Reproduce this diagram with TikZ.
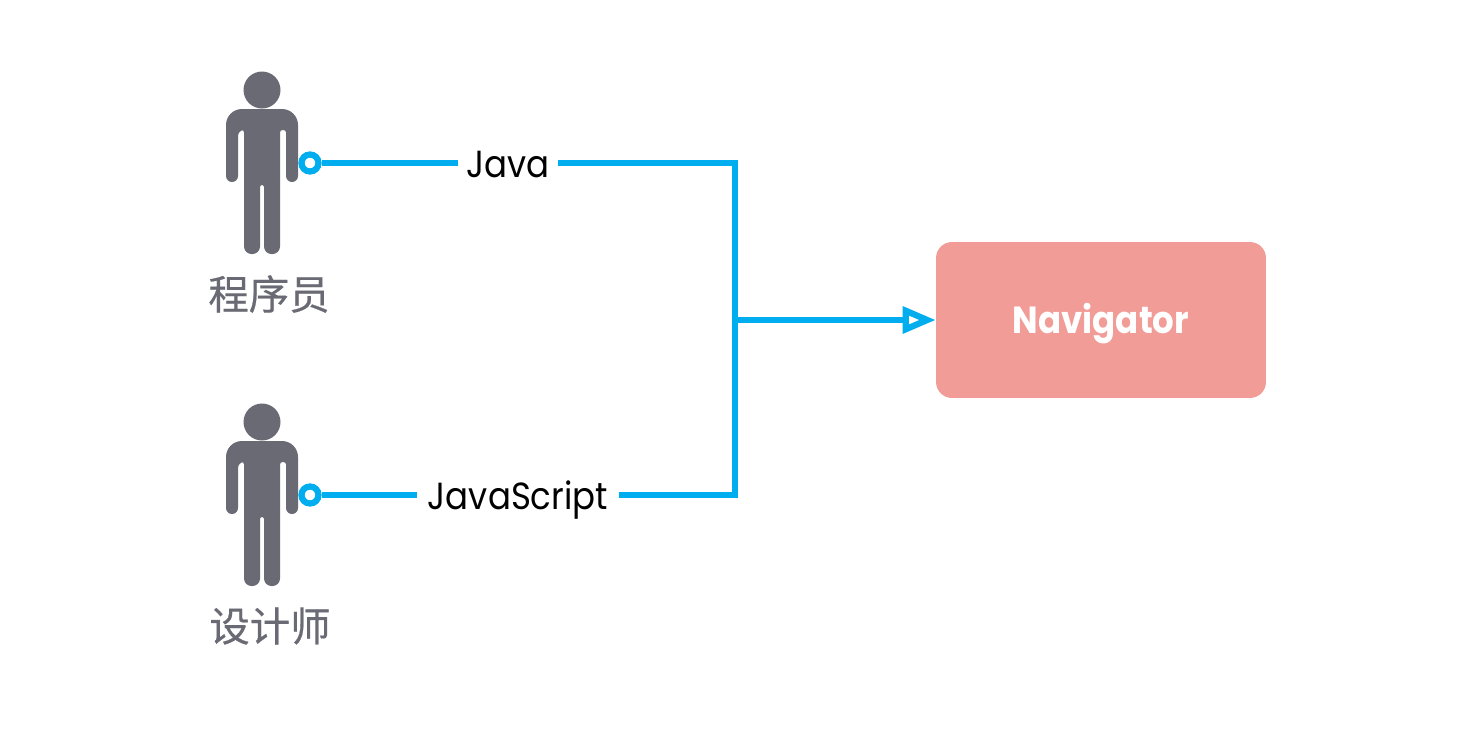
\documentclass[tikz,border=0pt]{standalone}
\usepackage{fontspec}
\setmainfont[FakeStretch=.9]{Poppins}
\newfontfamily\cjkfont[FakeBold=.5]{Noto Sans CJK SC}
\usetikzlibrary{arrows.meta}
\definecolor{wireblue}{HTML}{00AEEF}
\definecolor{persongrey}{HTML}{6A6A74}
\definecolor{navred}{HTML}{F19C97}
\tikzset{
  wire/.style={draw=wireblue,line width=.115cm},
  port/.style={circle,draw=wireblue,fill=white,line width=.125cm,minimum size=.34cm,inner sep=0pt},
  tag/.style={inner sep=0pt,text height=.56cm,text depth=0pt,font=\fontsize{21.5}{24}\selectfont},
  rolename/.style={text=persongrey,inner sep=0pt,font=\cjkfont\fontsize{23}{26}\selectfont},
  navbox/.style={fill=navred,rounded corners=.32cm,minimum width=6.6cm,minimum height=3.12cm,
    text height=.52cm,text depth=0pt,text=white,font=\fontsize{21.5}{24}\selectfont\bfseries},
  person/.pic={
    \fill[persongrey] (0,0) circle [radius=18.5];
    \fill[persongrey] (0,19) [rounded corners=.32cm] -- (-36,19) -- (-36,50)
      [rounded corners=.12cm] -- (-36,92) -- (-24,92) -- (-24,40) [rounded corners=.05cm] -- (-18,40)
      [rounded corners=.15cm] -- (-18,164) -- (-2,164) [rounded corners=.04cm] -- (-2,95) -- (2,95)
      [rounded corners=.15cm] -- (2,164) -- (18,164) [rounded corners=.05cm] -- (18,40) -- (24,40)
      [rounded corners=.12cm] -- (24,92) -- (36,92) -- (36,50)
      [rounded corners=.32cm] -- (36,19) -- cycle;
  }
}
\begin{document}
\begin{tikzpicture}[x=.02cm,y=-.02cm]
  \useasboundingbox (0,0) rectangle (1460,734);
  \pic at (262,90) {person};
  \pic at (262,422) {person};
  \node[rolename] (dev) at (269,294) {程序员};
  \node[rolename] (designer) at (270,626) {设计师};
  \node[port] (devport) at (310,163) {};
  \node[port] (designerport) at (310,495) {};
  \node[tag,minimum width=2cm] (java) at (508,163) {Java};
  \node[tag,minimum width=4.04cm] (script) at (518,495) {JavaScript};
  \node[navbox] (nav) at (1101,320) {Navigator};
  \coordinate (joint) at (735,320);
  \draw[wire] (devport) -- (java);
  \draw[wire] (designerport) -- (script);
  \draw[wire] (java.east) -| (joint);
  \draw[wire] (script.east) -| (joint);
  \draw[wire,-{Triangle[open,length=.66cm,width=.52cm,line width=.125cm]}] (joint) -- (nav);
\end{tikzpicture}
\end{document}
